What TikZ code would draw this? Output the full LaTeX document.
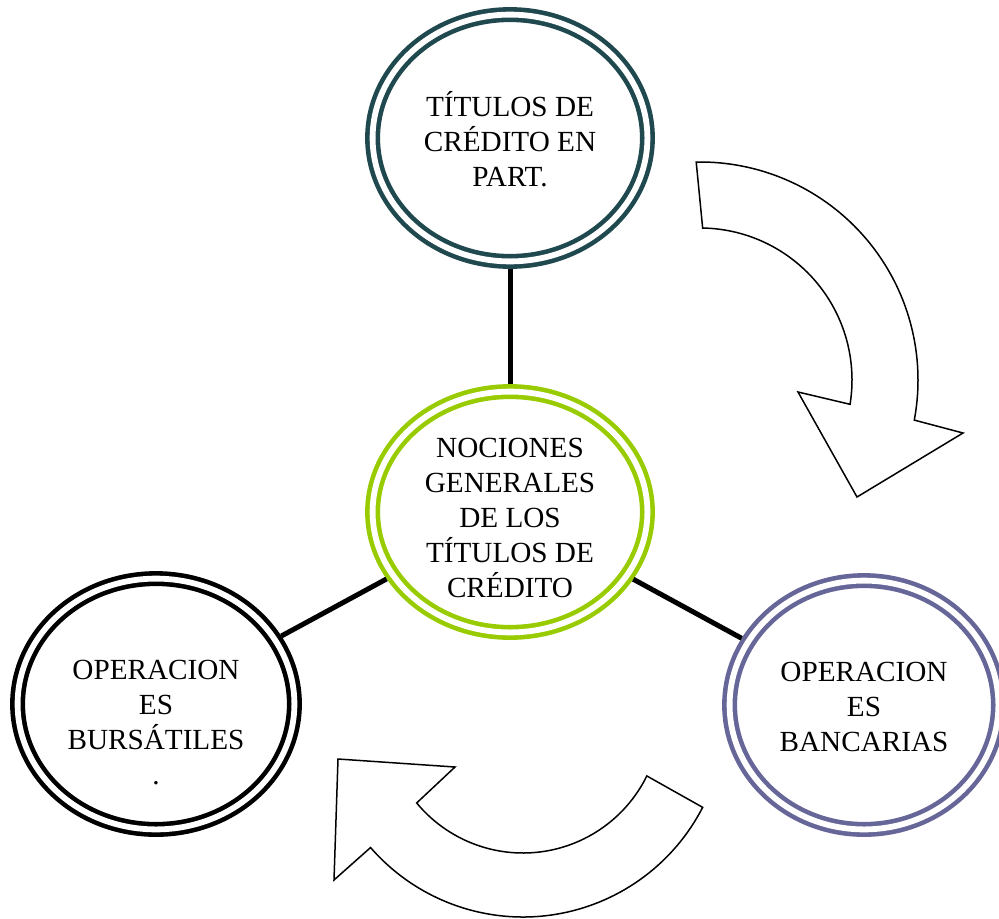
\documentclass[tikz,border=0pt]{standalone}
\usepackage{fontspec}
\setmainfont{Liberation Serif}
\usepackage{tikz}
\usetikzlibrary{shapes.geometric}
\definecolor{tealdark}{RGB}{31,73,79}
\definecolor{limegreen}{RGB}{153,204,0}
\definecolor{slateblue}{RGB}{102,102,153}
\tikzstyle{ring}=[ellipse,draw,double=white,double distance=2.9pt,line width=2.3pt,inner sep=0pt,outer sep=3.75pt]
\tikzstyle{lbl}=[align=center,inner sep=0pt,font=\fontsize{14.6}{17.5}\selectfont]
\tikzstyle{link}=[line width=2.5pt,draw=black]
\tikzstyle{bigarrow}=[draw=black,fill=white,line width=0.75pt,line join=miter]

\begin{document}
\begin{tikzpicture}[x=0.5pt,y=0.5pt]
\useasboundingbox (0,0) rectangle (999,918);
\node[ring,draw=tealdark,minimum width=274.8pt/2,minimum height=246.8pt/2] (A) at (510,780) {};
\node[ring,draw=limegreen,minimum width=274.8pt/2,minimum height=240.8pt/2] (B) at (510,406) {};
\node[ring,draw=black,minimum width=276.8pt/2,minimum height=250.8pt/2] (C) at (156,214) {};
\node[ring,draw=slateblue,minimum width=268.8pt/2,minimum height=248.8pt/2] (D) at (864,213) {};
\node[lbl] (a) at (510,778.8) {TÍTULOS DE\\CRÉDITO EN\\PART.};
\node[lbl] (b) at (510,400.5) {NOCIONES\\GENERALES\\DE LOS\\TÍTULOS DE\\CRÉDITO};
\node[lbl] (c) at (156,195) {OPERACION\\ES\\BURSÁTILES\\.};
\node[lbl] (d) at (864,211.5) {OPERACION\\ES\\BANCARIAS};
\path[link]
(A) edge (B)
(B) edge (C)
(B) edge (D);
% curved arrows
\draw[bigarrow] ([shift={(700,538)}]91:218) arc[start angle=91,end angle=-10.6,radius=218]
  -- (963,485) -- (857,421) -- (798,526)
  -- ([shift={(700,538)}]-9.2:152) arc[start angle=-9.2,end angle=89,radius=152] -- cycle;
\draw[bigarrow] ([shift={(523,203)}]-26.2:138) arc[start angle=-26.2,end angle=-140.4,radius=138]
  -- (455,151) -- (338,159) -- (334,38)
  -- ([shift={(523,203)}]-139:202) arc[start angle=-139,end angle=-27.2,radius=202] -- cycle;
\end{tikzpicture}
\end{document}
